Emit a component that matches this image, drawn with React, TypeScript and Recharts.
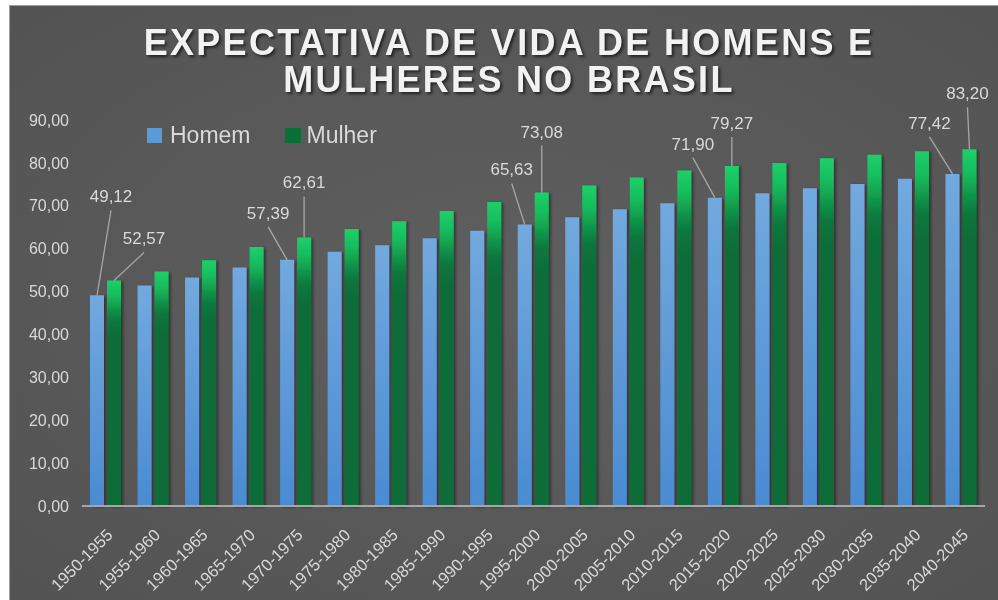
import React from 'react';
import { BarChart, Bar, XAxis, YAxis, Legend, LabelList } from 'recharts';

const CATEGORIES = [
  '1950-1955', '1955-1960', '1960-1965', '1965-1970', '1970-1975', '1975-1980',
  '1980-1985', '1985-1990', '1990-1995', '1995-2000', '2000-2005', '2005-2010',
  '2010-2015', '2015-2020', '2020-2025', '2025-2030', '2030-2035', '2035-2040', '2040-2045'
];
const HOMEM = [49.12, 51.4, 53.3, 55.6, 57.39, 59.3, 60.8, 62.4, 64.2, 65.63, 67.3, 69.2, 70.6, 71.9, 72.9, 74.1, 75.1, 76.3, 77.42];
const MULHER = [52.57, 54.7, 57.3, 60.4, 62.61, 64.6, 66.4, 68.8, 70.9, 73.08, 74.7, 76.6, 78.2, 79.27, 80.0, 81.1, 81.9, 82.7, 83.2];
const Y_TICKS = [0, 10, 20, 30, 40, 50, 60, 70, 80, 90];

// where the moved data labels sit, relative to the top centre of their bar
const HOMEM_LABELS: Record<number, [number, number]> = {
  0: [14, -99], 4: [-19, -47], 9: [-13, -55], 13: [-22, -54], 18: [-23, -51]
};
const MULHER_LABELS: Record<number, [number, number]> = {
  0: [30, -42], 4: [0, -55], 9: [0, -61], 13: [0, -43], 18: [-2, -56]
};

const data = CATEGORIES.map((c, i) => ({ periodo: c, Homem: HOMEM[i], Mulher: MULHER[i] }));

const FONT = '"Liberation Sans", Arial, sans-serif';
const TEXT = '#d9d9d9';
const fmt = (v: number) => v.toFixed(2).replace('.', ',');

const makeLabel = (pos: Record<number, [number, number]>) => (props: any) => {
  const { x, y, width, value, index } = props;
  const off = pos[index];
  if (!off) return null;
  const bx = Number(x) + Number(width) / 2;
  const by = Number(y);
  const lx = bx + off[0];
  const ly = by + off[1];
  return (
    <g>
      <line x1={lx} y1={ly + 14} x2={bx} y2={by} stroke="#a6a6a6" strokeWidth={1.3} />
      <text x={lx} y={ly} dy="0.35em" textAnchor="middle" fill={TEXT} fontSize={17} fontFamily={FONT}>
        {fmt(value)}
      </text>
    </g>
  );
};

const XTick = (props: any) => {
  const { x, y, payload } = props;
  const ax = x + 8;
  const ay = y + 28;
  return (
    <text x={ax} y={ay} transform={`rotate(-45, ${ax}, ${ay})`} textAnchor="end" fill={TEXT} fontSize={16.5} fontFamily={FONT}>
      {payload.value}
    </text>
  );
};

const LegendBox = () => (
  <div style={{ display: 'flex', alignItems: 'center', fontFamily: FONT, fontSize: 23, lineHeight: '23px', color: TEXT }}>
    <span style={{ width: 15, height: 15, background: '#5b9bd5', display: 'inline-block' }} />
    <span style={{ marginLeft: 8 }}>Homem</span>
    <span style={{ width: 16, height: 15, background: '#0b7038', display: 'inline-block', marginLeft: 34 }} />
    <span style={{ marginLeft: 6 }}>Mulher</span>
  </div>
);

const titleStyle: React.CSSProperties = {
  position: 'absolute',
  left: 500,
  transform: 'translateX(-50%)',
  whiteSpace: 'nowrap',
  fontFamily: FONT,
  fontWeight: 'bold',
  fontSize: 36,
  lineHeight: '36px',
  letterSpacing: 2.3,
  color: '#f2f2f2',
  textShadow: '2px 2px 3px rgba(0,0,0,0.6)'
};

export default function App() {
  return (
    <div
      style={{
        position: 'fixed',
        left: 9,
        top: 5,
        width: 989,
        height: 595,
        background: 'radial-gradient(ellipse at center, #5f5f5f 0%, #585858 60%, #535353 100%)',
        boxShadow: 'inset 1px 1px 0 #a0a0a0'
      }}
    >
      <div style={{ ...titleStyle, top: 19.5 }}>EXPECTATIVA DE VIDA DE HOMENS E</div>
      <div style={{ ...titleStyle, top: 56.5 }}>MULHERES NO BRASIL</div>
      <BarChart
        width={989}
        height={595}
        data={data}
        margin={{ top: 115, right: 13, left: 0, bottom: 34 }}
        barCategoryGap={8}
        barGap={3}
      >
        <defs>
          <linearGradient id="gHomem" x1="0" y1="0" x2="0" y2="1">
            <stop offset="0%" stopColor="#72a9de" />
            <stop offset="100%" stopColor="#4a8bd2" />
          </linearGradient>
          <linearGradient id="gMulher" x1="0" y1="0" x2="0" y2="1">
            <stop offset="0%" stopColor="#1dcf69" />
            <stop offset="6%" stopColor="#17bf5e" />
            <stop offset="18%" stopColor="#0c773d" />
            <stop offset="26%" stopColor="#0a6c37" />
            <stop offset="100%" stopColor="#0a6c37" />
          </linearGradient>
          <filter id="barShadow" x="-30%" y="-5%" width="160%" height="110%">
            <feDropShadow dx={2} dy={1} stdDeviation={1.5} floodColor="#000" floodOpacity={0.45} />
          </filter>
        </defs>
        <XAxis
          dataKey="periodo"
          height={60}
          interval={0}
          tickLine={false}
          tickSize={0}
          axisLine={{ stroke: '#a6a6a6', strokeWidth: 2 }}
          tick={<XTick />}
        />
        <YAxis
          width={73}
          domain={[0, 90]}
          ticks={Y_TICKS}
          tickFormatter={fmt}
          axisLine={false}
          tickLine={false}
          tickSize={0}
          tickMargin={13}
          tick={{ fill: TEXT, fontSize: 16, fontFamily: FONT }}
        />
        <Legend
          layout="horizontal"
          verticalAlign="middle"
          align="center"
          content={<LegendBox />}
          wrapperStyle={{ position: 'absolute', left: 138, top: 118.5, width: 'auto' }}
        />
        <Bar dataKey="Homem" fill="url(#gHomem)" filter="url(#barShadow)" isAnimationActive={false}>
          <LabelList dataKey="Homem" content={makeLabel(HOMEM_LABELS)} />
        </Bar>
        <Bar dataKey="Mulher" fill="url(#gMulher)" filter="url(#barShadow)" isAnimationActive={false}>
          <LabelList dataKey="Mulher" content={makeLabel(MULHER_LABELS)} />
        </Bar>
      </BarChart>
    </div>
  );
}
